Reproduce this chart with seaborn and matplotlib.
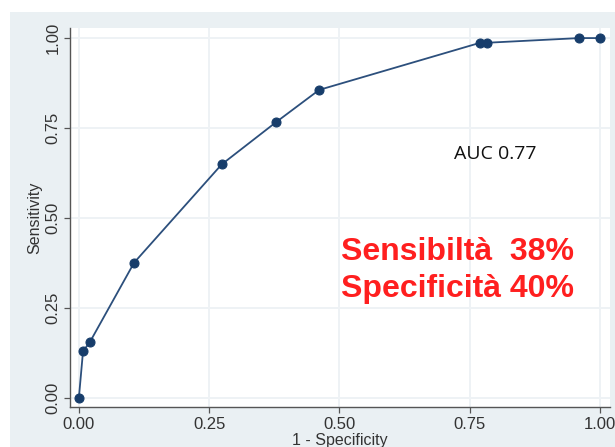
import matplotlib
matplotlib.use("Agg")
import matplotlib.pyplot as plt
from matplotlib.patches import Rectangle
import seaborn as sns
import pandas as pd

# ROC curve operating points
fpr = [0.0, 0.008, 0.021, 0.106, 0.274, 0.378, 0.461, 0.770, 0.783, 0.960, 1.0]
tpr = [0.0, 0.130, 0.155, 0.376, 0.649, 0.766, 0.856, 0.987, 0.987, 1.0, 1.0]
ticks = [0.0, 0.25, 0.5, 0.75, 1.0]
tick_labels = ["0.00", "0.25", "0.50", "0.75", "1.00"]
auc_label = "AUC 0.77"
summary_lines = ["Sensibiltà  38%", "Specificità 40%"]

sns.set_style("white")
plt.rcParams["font.family"] = ["Liberation Sans", "DejaVu Sans"]

df = pd.DataFrame({"fpr": fpr, "tpr": tpr})

fig = plt.figure(figsize=(6.15, 4.47), dpi=100, facecolor="white")
# light panel behind the plot region
fig.patches.append(Rectangle((10 / 615, 0), 1, (447 - 12) / 447,
                             transform=fig.transFigure, facecolor="#eaf0f3",
                             edgecolor="none", zorder=-1))
ax = fig.add_axes([70 / 615, 1 - 407 / 447, (610 - 70) / 615, (407 - 28) / 447])
ax.set_facecolor("white")

sns.lineplot(data=df, x="fpr", y="tpr", ax=ax, sort=False, color="#2c4f7c",
             linewidth=1.3, marker="o", markersize=6.5,
             markerfacecolor="#173d6b", markeredgecolor="#173d6b")

ax.set_xlim(-0.017, 1.019)
ax.set_ylim(-0.025, 1.028)
ax.set_xticks(ticks)
ax.set_xticklabels(tick_labels)
ax.set_yticks(ticks)
ax.set_yticklabels(tick_labels, rotation=90, va="center")
ax.grid(True, color="#eef2f5", linewidth=1.4)
ax.set_axisbelow(True)

for side in ["top", "right"]:
    ax.spines[side].set_visible(False)
for side in ["left", "bottom"]:
    ax.spines[side].set_color("#555555")
    ax.spines[side].set_linewidth(1.0)
ax.tick_params(axis="both", direction="out", length=4, width=0.9,
               color="#555555", labelcolor="#333333", labelsize=12, pad=3)
ax.tick_params(axis="both", which="both", bottom=True, left=True)

ax.set_xlabel("1 - Specificity", fontsize=11.5, color="#333333", labelpad=1)
ax.set_ylabel("Sensitivity", fontsize=11.5, color="#333333", labelpad=2)

ax.text(0.72, 0.678, auc_label, fontsize=14, color="#111111",
        family=["Open Sans", "DejaVu Sans"], va="center")
ax.text(0.502, 0.405, summary_lines[0], fontsize=23, fontweight="bold",
        color="#ff1f1f", va="center")
ax.text(0.502, 0.302, summary_lines[1], fontsize=23, fontweight="bold",
        color="#ff1f1f", va="center")

fig.savefig("out.png", dpi=100, facecolor="white")
